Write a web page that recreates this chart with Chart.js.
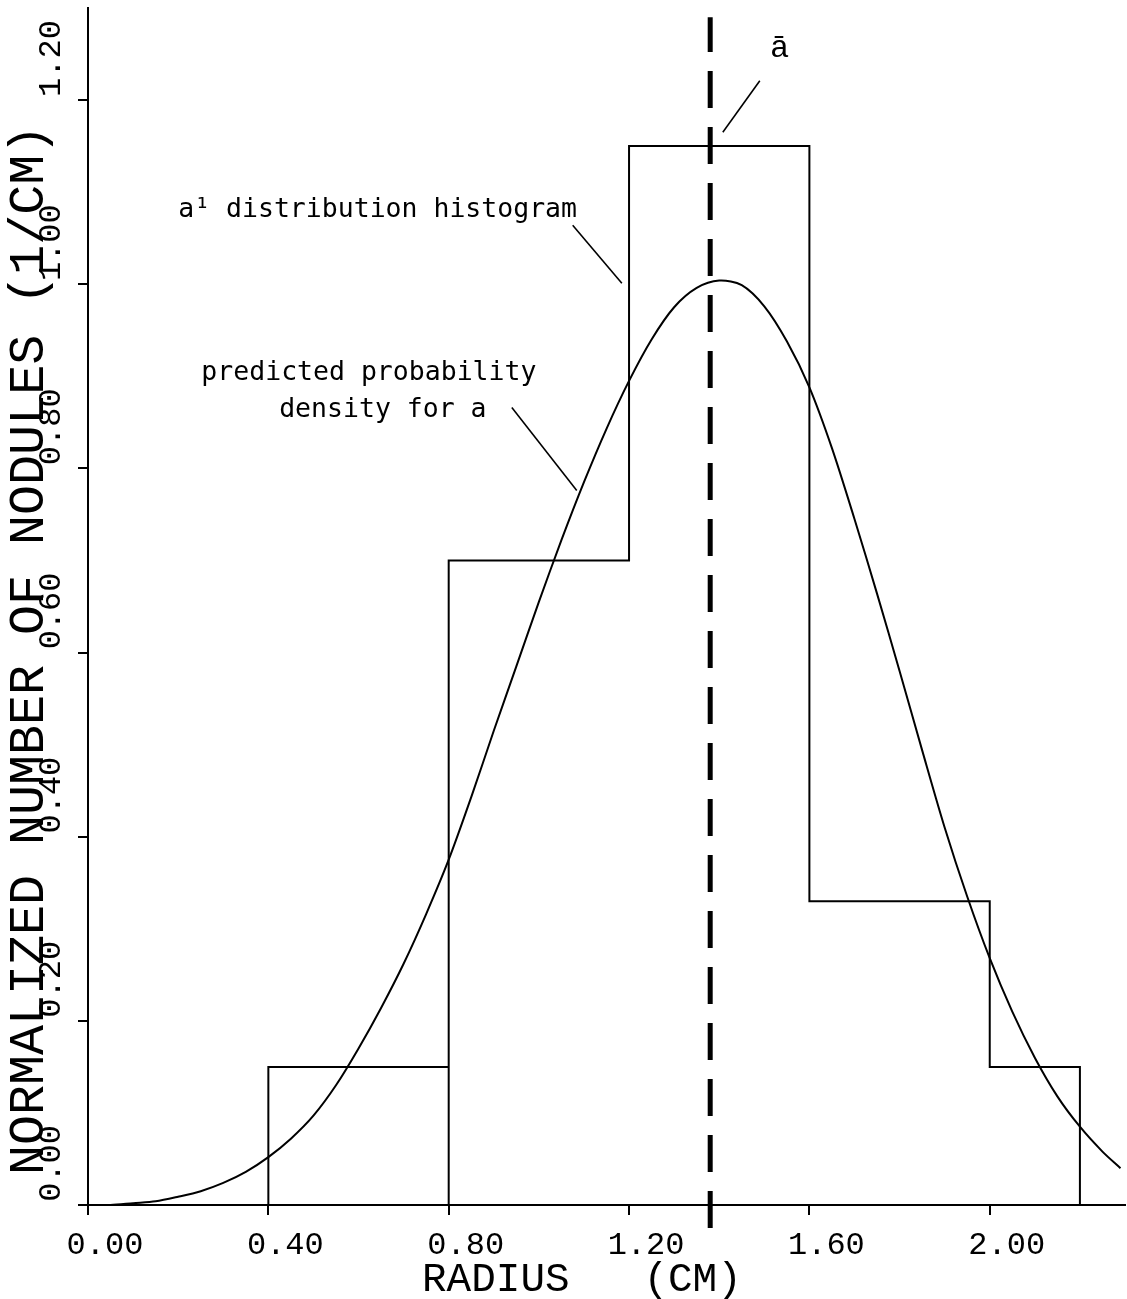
<!DOCTYPE html>
<html>
<head>
<meta charset="utf-8">
<script src="https://cdn.jsdelivr.net/npm/chart.js@4.4.1/dist/chart.umd.min.js"></script>
<style>
  html, body { margin: 0; padding: 0; background: #fff; }
  #wrap { width: 1127px; height: 1299px; }
</style>
</head>
<body>
<div id="wrap"><canvas id="noduleChart"></canvas></div>
<script>
// predicted probability density for a
const curveRadius = [0, 0.05, 0.1, 0.15, 0.2, 0.25, 0.3, 0.35, 0.4, 0.45, 0.5, 0.55,
                     0.6, 0.65, 0.7, 0.75, 0.8, 0.85, 0.9, 0.95, 1.0, 1.05, 1.1, 1.15,
                     1.2, 1.25, 1.3, 1.35, 1.4, 1.45, 1.5, 1.55, 1.6, 1.65, 1.7, 1.75,
                     1.8, 1.85, 1.9, 1.95, 2.0, 2.05, 2.1, 2.15, 2.2, 2.25, 2.29];
const curveDensity = [0.000, 0.000, 0.002, 0.004, 0.009, 0.015, 0.024, 0.036, 0.052, 0.072, 0.097, 0.130,
                      0.170, 0.214, 0.262, 0.316, 0.375, 0.443, 0.515, 0.585, 0.655, 0.722, 0.785, 0.843,
                      0.895, 0.940, 0.975, 0.996, 1.004, 0.999, 0.976, 0.938, 0.888, 0.822, 0.745, 0.664,
                      0.580, 0.494, 0.410, 0.335, 0.268, 0.210, 0.160, 0.118, 0.085, 0.058, 0.040];

// a' distribution histogram
const binEdges = [0.4, 0.8, 1.2, 1.6, 2.0, 2.2];
const binHeights = [0.15, 0.70, 1.15, 0.33, 0.15];
const dropToAxis = [true, false, false, false, true]; // right edge drawn down to the axis

// mean radius (a bar)
const meanRadius = 1.38;
const meanSpan = [-0.025, 1.29];

const xTicks = [0, 0.4, 0.8, 1.2, 1.6, 2.0];
const yTicks = [0, 0.2, 0.4, 0.6, 0.8, 1.0, 1.2];

// build the histogram outline
const histPoints = [{ x: binEdges[0], y: 0 }];
binHeights.forEach((h, i) => {
  histPoints.push({ x: binEdges[i], y: h }, { x: binEdges[i + 1], y: h });
  if (dropToAxis[i]) histPoints.push({ x: binEdges[i + 1], y: 0 });
});

const axisFont = 'Liberation Mono';
const noteFont = '26.5px "DejaVu Sans Mono"';

// labels and leader lines, in data units
const notes = [
  { text: 'a\u00b9 distribution histogram', x: 0.2, y: 1.08, align: 'left', font: noteFont },
  { text: 'predicted probability', x: 0.623, y: 0.904, align: 'center', font: noteFont },
  { text: 'density for a', x: 0.654, y: 0.863, align: 'center', font: noteFont },
  { text: '\u0101', x: 1.534, y: 1.256, align: 'center', font: '32px "Liberation Mono"' }
];
const leaders = [
  [1.075, 1.064, 1.184, 1.001],
  [0.940, 0.866, 1.084, 0.776],
  [1.490, 1.221, 1.408, 1.165]
];

const notePlugin = {
  id: 'notes',
  afterDatasetsDraw(chart) {
    const { ctx, scales: { x, y } } = chart;
    ctx.save();
    ctx.fillStyle = '#000';
    ctx.strokeStyle = '#000';
    ctx.lineWidth = 1.6;
    ctx.textBaseline = 'middle';
    notes.forEach(n => {
      ctx.font = n.font;
      ctx.textAlign = n.align;
      ctx.fillText(n.text, x.getPixelForValue(n.x), y.getPixelForValue(n.y));
    });
    leaders.forEach(([x0, y0, x1, y1]) => {
      ctx.beginPath();
      ctx.moveTo(x.getPixelForValue(x0), y.getPixelForValue(y0));
      ctx.lineTo(x.getPixelForValue(x1), y.getPixelForValue(y1));
      ctx.stroke();
    });
    ctx.restore();
  }
};

// no extra room for the end labels, the layout is fixed
const noEdgePadding = s => {
  s.paddingTop = 0;
  s.paddingBottom = 0;
  s.paddingLeft = 0;
  s.paddingRight = 0;
};

const noduleCtx = document.getElementById('noduleChart');
new Chart(noduleCtx, {
  type: 'line',
  data: {
    datasets: [
      {
        data: curveRadius.map((r, i) => ({ x: r, y: curveDensity[i] })),
        borderColor: '#000',
        borderWidth: 2,
        pointRadius: 0,
        tension: 0.3
      },
      {
        data: histPoints,
        borderColor: '#000',
        borderWidth: 2,
        pointRadius: 0,
        tension: 0
      },
      {
        data: meanSpan.map(v => ({ x: meanRadius, y: v })),
        borderColor: '#000',
        borderWidth: 5,
        borderDash: [37, 19],
        pointRadius: 0,
        clip: false
      }
    ]
  },
  options: {
    animation: false,
    responsive: true,
    maintainAspectRatio: false,
    layout: { padding: { top: 8, right: 2, left: 0, bottom: 0 } },
    plugins: { legend: { display: false }, tooltip: { enabled: false } },
    scales: {
      x: {
        type: 'linear',
        min: 0,
        max: 2.3,
        afterBuildTicks: s => { s.ticks = xTicks.map(v => ({ value: v })); },
        afterFit: s => { s.height = 94; noEdgePadding(s); },
        border: { color: '#000', width: 2 },
        grid: { drawOnChartArea: false, color: '#000', lineWidth: 2, tickLength: 10 },
        ticks: {
          color: '#000',
          font: { family: axisFont, size: 32 },
          maxRotation: 0,
          labelOffset: 17,
          padding: 11,
          callback: v => v.toFixed(2)
        },
        title: {
          display: true,
          text: 'RADIUS   (CM)  ',
          color: '#000',
          font: { family: axisFont, size: 41 },
          padding: { top: 0, bottom: -6 }
        }
      },
      y: {
        type: 'linear',
        min: 0,
        max: 1.3,
        afterBuildTicks: s => { s.ticks = yTicks.map(v => ({ value: v })); },
        afterFit: s => { s.width = 88; noEdgePadding(s); },
        border: { color: '#000', width: 2 },
        grid: { drawOnChartArea: false, color: '#000', lineWidth: 2, tickLength: 10 },
        ticks: {
          color: '#000',
          font: { family: axisFont, size: 32 },
          minRotation: 90,
          maxRotation: 90,
          crossAlign: 'near',
          labelOffset: -80,
          padding: 26,
          callback: v => v.toFixed(2)
        },
        title: {
          display: true,
          text: ' NORMALIZED NUMBER OF NODULES (1/CM)',
          color: '#000',
          font: { family: axisFont, size: 50 },
          align: 'start',
          padding: { top: 0, bottom: 0 }
        }
      }
    }
  },
  plugins: [notePlugin]
});
</script>
</body>
</html>
